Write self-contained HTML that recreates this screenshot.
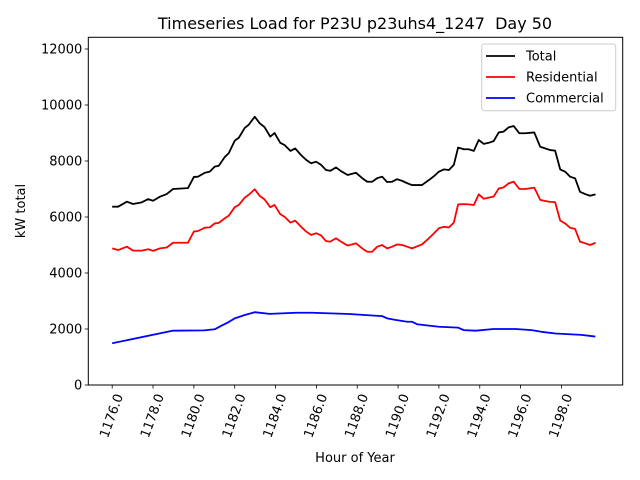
<!DOCTYPE html>
<html><head><meta charset="utf-8"><style>
html,body{margin:0;padding:0;background:#fff}
svg{display:block;font-family:"DejaVu Sans","Liberation Sans",sans-serif}
</style></head><body>
<svg id="chart" width="640" height="480" viewBox="0 0 640 480">
<rect width="640" height="480" fill="#fff"/>
<text x="355" y="29" font-size="16" text-anchor="middle">Timeseries Load for P23U p23uhs4_1247&#160; Day 50</text>
<g id="plot"></g>
<text x="355" y="462" font-size="13" text-anchor="middle">Hour of Year</text>
<text transform="translate(25,211) rotate(-90)" font-size="13" text-anchor="middle">kW total</text>
</svg>
<script>
const xTicks = [1176,1178,1180,1182,1184,1186,1188,1190,1192,1194,1196,1198];
const yTicks = [0,2000,4000,6000,8000,10000,12000];
const totHours = [0,0.29,0.72,1.02,1.45,1.76,2.0,2.34,2.67,2.98,3.71,4.0,4.2,4.54,4.78,5.02,5.22,5.51,5.71,6.0,6.2,6.49,6.68,6.98,7.22,7.46,7.74,7.95,8.23,8.44,8.73,8.96,9.25,9.5,9.74,9.99,10.23,10.47,10.68,10.96,11.2,11.53,11.94,12.24,12.49,12.73,12.98,13.22,13.46,13.71,13.95,14.2,14.44,14.68,15.17,15.51,15.76,16.0,16.24,16.49,16.73,16.94,17.22,17.46,17.71,17.95,18.2,18.44,18.68,18.93,19.17,19.41,19.66,19.94,20.23,20.67,20.96,21.2,21.45,21.69,21.94,22.18,22.42,22.67,22.91,23.16,23.4,23.67].map(h=>1176+h);
const totVals = [6368,6368,6547,6464,6524,6640,6580,6726,6820,7000,7030,7430,7440,7580,7620,7800,7830,8140,8280,8725,8830,9180,9290,9580,9350,9210,8870,9000,8650,8570,8360,8450,8210,8040,7920,7975,7860,7680,7650,7770,7640,7500,7580,7390,7260,7260,7390,7440,7250,7260,7350,7290,7210,7140,7140,7320,7460,7620,7700,7680,7860,8480,8420,8420,8360,8750,8610,8650,8710,9020,9050,9200,9250,8990,8990,9020,8510,8450,8390,8370,7700,7620,7440,7380,6900,6820,6760,6810];
const resHours = totHours;
const resVals = [4880,4820,4940,4800,4800,4850,4790,4880,4910,5080,5080,5480,5500,5620,5630,5770,5790,5950,6050,6350,6430,6690,6790,6990,6760,6630,6350,6430,6100,6010,5800,5870,5650,5480,5360,5420,5340,5140,5120,5240,5120,4980,5060,4880,4760,4760,4940,5000,4880,4940,5020,5000,4940,4880,5020,5240,5420,5600,5650,5630,5800,6450,6460,6450,6430,6810,6650,6690,6730,7020,7060,7200,7260,7000,7000,7050,6610,6570,6540,6530,5870,5770,5620,5570,5120,5060,5000,5080];
const comHours = [0,2.98,4.49,5.02,5.41,5.66,6.0,6.49,6.98,7.71,9.02,9.8,11.61,13.22,13.46,13.9,14.44,14.68,14.93,15.51,16.0,16.93,17.22,17.8,18.68,19.76,20.54,21.02,21.71,22.98,23.66].map(h=>1176+h);
const comVals = [1490,1940,1950,1990,2140,2230,2380,2500,2600,2540,2580,2580,2535,2460,2380,2320,2260,2260,2170,2120,2080,2050,1960,1940,2000,2000,1960,1900,1840,1790,1730];

const L=88.3,R=622.7,T=37.3,B=385;
const xMin=1174.83,xMax=1176+(R-112.7)/20.4;
const yMin=0,yMax=(B-T)/0.028;
const sx=v=>L+(v-xMin)/(xMax-xMin)*(R-L);
const sy=v=>B-(v-yMin)/(yMax-yMin)*(B-T);
const NS='http://www.w3.org/2000/svg';
const g=document.getElementById('plot');
function mk(tag,attrs,parent){const e=document.createElementNS(NS,tag);for(const k in attrs)e.setAttribute(k,attrs[k]);(parent||g).appendChild(e);return e;}

function series(hours,vals,color,name){
  const p=mk('polyline',{points:hours.map((h,i)=>sx(h).toFixed(2)+','+sy(vals[i]).toFixed(2)).join(' '),fill:'none',stroke:color,'stroke-width':1.8,'stroke-linejoin':'round'});
  
  
}
series(totHours,totVals,'#000','total-line');
series(resHours,resVals,'#ff0000','residential-line');
series(comHours,comVals,'#0000ff','commercial-line');

const frame=mk('rect',{x:L,y:T,width:R-L,height:B-T,fill:'none',stroke:'#000','stroke-width':1});



xTicks.forEach(t=>{
  const x=sx(t);
  const tk=mk('line',{x1:x,x2:x,y1:B,y2:B+3.5,stroke:'#000','stroke-width':0.8});
  
  
  const tx=mk('text',{transform:'translate('+x+','+(B+31)+') rotate(-70)','font-size':13,'text-anchor':'middle','dominant-baseline':'central'});
  tx.textContent=t.toFixed(1);
  
  
});
yTicks.forEach(t=>{
  const y=sy(t);
  const tk=mk('line',{x1:L-3.5,x2:L,y1:y,y2:y,stroke:'#000','stroke-width':0.8});
  
  
  const tx=mk('text',{x:L-6,y:y+4.5,'font-size':13,'text-anchor':'end'});
  tx.textContent=String(t);
  
  
});

const leg=mk('g',{});


mk('rect',{x:481.7,y:44,width:134,height:66.7,rx:2.5,fill:'#fff','fill-opacity':0.8,stroke:'#ccc','stroke-width':1},leg);
[['Total','#000',56],['Residential','#ff0000',77],['Commercial','#0000ff',98]].forEach(([lab,c,y])=>{
  const e=mk('g',{},leg);
  
  
  mk('line',{x1:486,x2:515,y1:y,y2:y,stroke:c,'stroke-width':1.8},e);
  const t=mk('text',{x:526,y:y+4.5,'font-size':13},e);
  t.textContent=lab;
});
</script>
</body></html>
